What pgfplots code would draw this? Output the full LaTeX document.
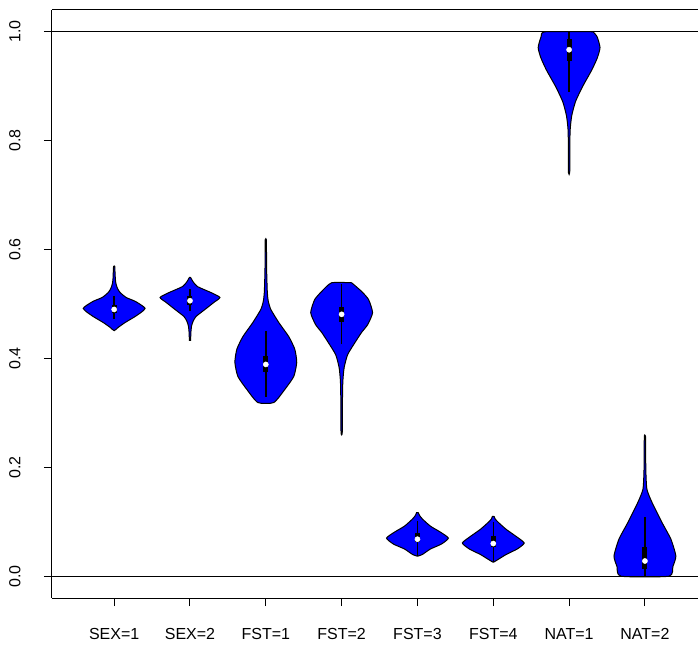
\documentclass[border=0pt]{standalone}
\usepackage{pgfplots}
\pgfplotsset{compat=1.18}
\usepackage{pgfplotstable}
\usepackage{fontspec}
\setmainfont{Liberation Sans}

% Violin outlines: signed half-width w (x units) against value y,
% right side top to bottom, then left side bottom to top.
\pgfplotstableread{
w y
0.008 0.569
0.016 0.545
0.026 0.536
0.046 0.528
0.079 0.521
0.158 0.512
0.277 0.505
0.369 0.497
0.408 0.492
0.369 0.486
0.277 0.477
0.145 0.466
0.053 0.457
0.000 0.451
-0.053 0.457
-0.145 0.466
-0.277 0.477
-0.369 0.486
-0.408 0.492
-0.369 0.497
-0.277 0.505
-0.158 0.512
-0.079 0.521
-0.046 0.528
-0.026 0.536
-0.016 0.545
-0.008 0.569
0.008 0.569
}\vsexa
\pgfplotstableread{
w y
0.007 0.549
0.040 0.541
0.099 0.532
0.277 0.521
0.395 0.512
0.316 0.503
0.198 0.490
0.079 0.477
0.040 0.468
0.020 0.459
0.011 0.446
0.008 0.433
-0.008 0.433
-0.011 0.446
-0.020 0.459
-0.040 0.468
-0.079 0.477
-0.198 0.490
-0.316 0.503
-0.395 0.512
-0.277 0.521
-0.099 0.532
-0.040 0.541
-0.007 0.549
0.007 0.549
}\vsexb
\pgfplotstableread{
w y
0.008 0.618
0.011 0.563
0.020 0.521
0.033 0.505
0.066 0.490
0.171 0.466
0.303 0.440
0.382 0.417
0.408 0.393
0.369 0.367
0.250 0.343
0.105 0.319
-0.105 0.319
-0.250 0.343
-0.369 0.367
-0.408 0.393
-0.382 0.417
-0.303 0.440
-0.171 0.466
-0.066 0.490
-0.033 0.505
-0.020 0.521
-0.011 0.563
-0.008 0.618
0.008 0.618
}\vfsta
\pgfplotstableread{
w y
0.132 0.539
0.264 0.523
0.356 0.508
0.408 0.484
0.343 0.462
0.264 0.448
0.184 0.431
0.079 0.407
0.033 0.383
0.016 0.358
0.011 0.325
0.008 0.264
-0.008 0.264
-0.011 0.325
-0.016 0.358
-0.033 0.383
-0.079 0.407
-0.184 0.431
-0.264 0.448
-0.343 0.462
-0.408 0.484
-0.356 0.508
-0.264 0.523
-0.132 0.539
0.132 0.539
}\vfstb
\pgfplotstableread{
w y
0.011 0.117
0.026 0.112
0.066 0.105
0.171 0.092
0.303 0.081
0.408 0.070
0.316 0.059
0.171 0.050
0.066 0.040
0.007 0.037
-0.007 0.037
-0.066 0.040
-0.171 0.050
-0.316 0.059
-0.408 0.070
-0.303 0.081
-0.171 0.092
-0.066 0.105
-0.026 0.112
-0.011 0.117
0.011 0.117
}\vfstc
\pgfplotstableread{
w y
0.011 0.110
0.026 0.105
0.066 0.099
0.171 0.086
0.303 0.073
0.408 0.061
0.316 0.050
0.171 0.040
0.066 0.031
0.007 0.026
-0.007 0.026
-0.066 0.031
-0.171 0.040
-0.316 0.050
-0.408 0.061
-0.303 0.073
-0.171 0.086
-0.066 0.099
-0.026 0.105
-0.011 0.110
0.011 0.110
}\vfstd
\pgfplotstableread{
w y
0.316 1.000
0.369 0.991
0.408 0.971
0.372 0.952
0.300 0.930
0.180 0.900
0.085 0.872
0.035 0.846
0.014 0.820
0.009 0.783
0.008 0.741
-0.008 0.741
-0.009 0.783
-0.014 0.820
-0.035 0.846
-0.085 0.872
-0.180 0.900
-0.300 0.930
-0.372 0.952
-0.408 0.971
-0.369 0.991
-0.316 1.000
0.316 1.000
}\vnata
\pgfplotstableread{
w y
0.008 0.257
0.012 0.196
0.026 0.160
0.092 0.136
0.224 0.099
0.343 0.068
0.408 0.037
0.369 0.018
0.316 0.000
-0.316 0.000
-0.369 0.018
-0.408 0.037
-0.343 0.068
-0.224 0.099
-0.092 0.136
-0.026 0.160
-0.012 0.196
-0.008 0.257
0.008 0.257
}\vnatb

% Box summaries: position, lower whisker, q1, median, q3, upper whisker
\pgfplotstableread{
x lo q1 med q3 hi
1 0.472 0.483 0.490 0.498 0.514
2 0.487 0.498 0.506 0.514 0.527
3 0.330 0.376 0.389 0.405 0.450
4 0.426 0.467 0.481 0.494 0.536
5 0.037 0.062 0.068 0.079 0.101
6 0.026 0.053 0.060 0.073 0.099
7 0.890 0.947 0.967 0.987 1.000
8 0.000 0.013 0.028 0.053 0.108
}\boxes

\definecolor{vblue}{RGB}{0,0,255}

\newcommand{\violin}[2]{%
  \addplot[draw=black, line width=1pt, fill=vblue, smooth, tension=0.35]
    table[x expr=\thisrow{w}+#1, y=y] {#2};}

\begin{document}
\begin{tikzpicture}
\useasboundingbox (-52pt,-47pt) rectangle (646pt,598pt);
\begin{axis}[
  scale only axis,
  width=646pt, height=588pt,
  xmin=0.18, xmax=8.70,
  ymin=-0.04, ymax=1.04,
  axis x line*=bottom, axis y line*=left,
  axis line style={line width=1pt},
  every tick/.style={black, line width=1pt},
  tick align=outside,
  major tick length=8pt,
  xtick={1,2,3,4,5,6,7,8},
  xticklabels={{SEX=1},{SEX=2},{FST=1},{FST=2},{FST=3},{FST=4},{NAT=1},{NAT=2}},
  xticklabel style={yshift=-19pt},
  ytick={0,0.2,0.4,0.6,0.8,1.0},
  yticklabel style={xshift=-20pt, rotate=90, anchor=south, /pgf/number format/fixed,
    /pgf/number format/fixed zerofill, /pgf/number format/precision=1},
  /pgf/number format/assume math mode=true,
  tick label style={font=\fontsize{16}{19}\selectfont},
  clip=false,
]
\violin{1}{\vsexa}
\violin{2}{\vsexb}
\violin{3}{\vfsta}
\violin{4}{\vfstb}
\violin{5}{\vfstc}
\violin{6}{\vfstd}
\violin{7}{\vnata}
\violin{8}{\vnatb}

% whiskers, interquartile boxes and medians
\pgfplotsinvokeforeach{0,...,7}{
  \pgfplotstablegetelem{#1}{x}\of\boxes \edef\bx{\pgfplotsretval}
  \pgfplotstablegetelem{#1}{lo}\of\boxes \edef\blo{\pgfplotsretval}
  \pgfplotstablegetelem{#1}{q1}\of\boxes \edef\bqa{\pgfplotsretval}
  \pgfplotstablegetelem{#1}{med}\of\boxes \edef\bmed{\pgfplotsretval}
  \pgfplotstablegetelem{#1}{q3}\of\boxes \edef\bqc{\pgfplotsretval}
  \pgfplotstablegetelem{#1}{hi}\of\boxes \edef\bhi{\pgfplotsretval}
  \edef\temp{\noexpand\addplot[black, line width=1.5pt] coordinates {(\bx,\blo) (\bx,\bhi)};
    \noexpand\addplot[black, line width=5pt] coordinates {(\bx,\bqa) (\bx,\bqc)};
    \noexpand\addplot[only marks, mark=*, mark size=2.6pt, mark options={fill=white, draw=white}] coordinates {(\bx,\bmed)};}
  \temp
}

% reference lines at 0 and 1
\addplot[black, line width=1pt] coordinates {(0.18,0) (8.70,0)};
\addplot[black, line width=1pt] coordinates {(0.18,1) (8.70,1)};
\draw[line width=1pt] (rel axis cs:0,1) -- (rel axis cs:1,1);
\end{axis}
\end{tikzpicture}
\end{document}
